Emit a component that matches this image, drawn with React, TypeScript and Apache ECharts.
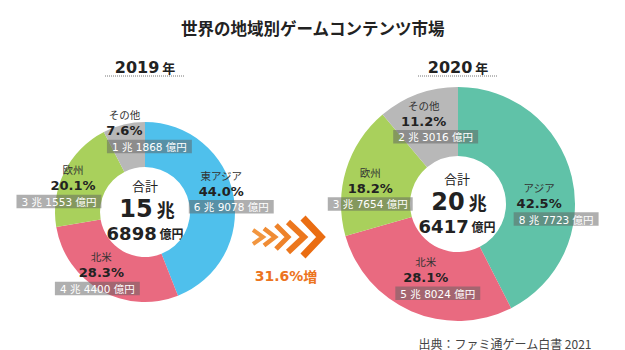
import React, { useEffect, useRef } from "react";
import * as echarts from "echarts";

const FONT = '"Noto Sans CJK JP", "Noto Sans", sans-serif';
const NUM = '"DejaVu Sans", "Noto Sans CJK JP", sans-serif';

const titleText = "世界の地域別ゲームコンテンツ市場";
const sourceText = "出典：ファミ通ゲーム白書 2021";

const years = ["2019", "2020"];

const regions2019 = ["東アジア", "北米", "欧州", "その他"];
const share2019 = [44.0, 28.3, 20.1, 7.6];
const amount2019 = [69078, 44400, 31553, 11868]; // 億円
const total2019 = 156898;
const colors2019 = ["#4fc0ec", "#e96a80", "#a9d05c", "#b8b8b8"];

const regions2020 = ["アジア", "北米", "欧州", "その他"];
const share2020 = [42.5, 28.1, 18.2, 11.2];
const amount2020 = [87723, 58024, 37654, 23016]; // 億円
const total2020 = 206417;
const colors2020 = ["#60c2a8", "#e96a80", "#a9d05c", "#b8b8b8"];

// label layout tweaks: [dx, dy, text shift relative to value box]
const layout2019 = [
  [17, -8, -10],
  [-13, -1, 4],
  [-23, 5, 14],
  [21, -13, -25],
];
const layout2020 = [
  [15, 19, -17],
  [14, -5, -12],
  [-6, 9, 0],
  [7, -3, -12],
];

const fmtAmount = (v: number) => `${Math.floor(v / 10000)} 兆 ${v % 10000} 億円`;

function makeRich(layout: number[][]) {
  const rich: any = {
    b: {
      fontSize: 10.5,
      color: "#ffffff",
      fontFamily: NUM,
      backgroundColor: "rgba(96,96,96,0.5)",
      padding: [2, 5, 1, 5],
      lineHeight: 14,
    },
  };
  layout.forEach((l, i) => {
    const s = l[2];
    const pad = s > 0 ? [0, 0, 0, 2 * s] : [0, -2 * s, 0, 0];
    rich["n" + i] = { fontSize: 10.5, color: "#333", lineHeight: 15, fontFamily: FONT, padding: pad };
    rich["p" + i] = {
      fontSize: 13,
      fontWeight: "bold",
      color: "#222",
      lineHeight: 17,
      fontFamily: NUM,
      padding: pad,
    };
  });
  return rich;
}

function makePie(
  regions: string[],
  shares: number[],
  amounts: number[],
  colors: string[],
  layout: number[][],
  center: number[],
  radius: number[]
) {
  return {
    type: "pie",
    silent: true,
    center,
    radius,
    startAngle: 90,
    clockwise: true,
    avoidLabelOverlap: false,
    itemStyle: { borderWidth: 0 },
    emphasis: { disabled: true },
    label: {
      show: true,
      position: "inside",
      formatter: (p: any) => {
        const i = p.dataIndex;
        return `{n${i}|${regions[i]}}\n{p${i}|${shares[i].toFixed(1)}%}\n{b|${fmtAmount(amounts[i])}}`;
      },
      rich: makeRich(layout),
    },
    labelLine: { show: false },
    labelLayout: (params: any) => ({
      dx: layout[params.dataIndex][0],
      dy: layout[params.dataIndex][1],
    }),
    data: regions.map((r, i) => ({
      name: r,
      value: amounts[i],
      itemStyle: { color: colors[i] },
    })),
  };
}

function centerTexts(x: number, y: number, total: number) {
  const cho = Math.floor(total / 10000);
  const oku = total % 10000;
  return [
    {
      type: "text",
      x,
      y: y - 27,
      style: {
        text: "合計",
        fontSize: 13,
        fontFamily: FONT,
        fill: "#222",
        textAlign: "center",
        textVerticalAlign: "middle",
      },
    },
    {
      type: "text",
      x: x + 2,
      y: y - 3,
      style: {
        text: `{a|${cho}}{k| 兆}`,
        textAlign: "center",
        textVerticalAlign: "middle",
        rich: {
          a: { fontSize: 24, fontWeight: "bold", fontFamily: NUM, fill: "#222", lineHeight: 22 },
          k: { fontSize: 18, fontWeight: "bold", fontFamily: FONT, fill: "#222", lineHeight: 22 },
        },
      },
    },
    {
      type: "text",
      x,
      y: y + 21,
      style: {
        text: `{a|${oku}}{k| 億円}`,
        textAlign: "center",
        textVerticalAlign: "middle",
        rich: {
          a: { fontSize: 18, fontWeight: "bold", fontFamily: NUM, fill: "#222", lineHeight: 16 },
          k: { fontSize: 12, fontWeight: "bold", fontFamily: FONT, fill: "#222", lineHeight: 16 },
        },
      },
    },
  ];
}

function yearHeader(x: number, year: string) {
  return [
    {
      type: "text",
      x,
      y: 67,
      style: {
        text: `{y|${year}}{k| 年}`,
        textAlign: "center",
        textVerticalAlign: "middle",
        rich: {
          y: { fontSize: 16, fontWeight: "bold", fontFamily: NUM, fill: "#222" },
          k: { fontSize: 13, fontWeight: "bold", fontFamily: FONT, fill: "#222" },
        },
      },
    },
    {
      type: "line",
      shape: { x1: x - 40, y1: 76, x2: x + 40, y2: 76 },
      style: { stroke: "#777", lineWidth: 1, lineDash: [1, 1] },
    },
  ];
}

const chevrons = [
  { pts: [[253, 230], [263, 237], [253, 244]], w: 4, c: "#f2963f" },
  { pts: [[264, 228.5], [275, 237], [264, 245.5]], w: 4.5, c: "#f08c34" },
  { pts: [[276, 225], [288, 237], [276, 249]], w: 5, c: "#ee822a" },
  { pts: [[288, 222], [304, 237], [288, 252]], w: 6, c: "#ec771e" },
  { pts: [[303, 218], [321, 237], [303, 256]], w: 7, c: "#ea6d12" },
];

export default function App() {
  const ref = useRef<HTMLDivElement>(null);
  useEffect(() => {
    if (!ref.current) return;
    const chart = echarts.init(ref.current, undefined, { renderer: "svg" });
    const growth = ((total2020 / total2019 - 1) * 100).toFixed(1);
    chart.setOption({
      animation: false,
      backgroundColor: "#ffffff",
      title: {
        text: titleText,
        left: 176,
        top: 15,
        textStyle: { fontSize: 16.5, fontWeight: "bold", color: "#222", fontFamily: FONT },
      },
      series: [
        makePie(regions2019, share2019, amount2019, colors2019, layout2019, [145, 212], [45, 90]),
        makePie(regions2020, share2020, amount2020, colors2020, layout2020, [458, 204], [48, 117]),
      ],
      graphic: [
        ...yearHeader(145, years[0]),
        ...yearHeader(458, years[1]),
        ...centerTexts(145, 212, total2019),
        ...centerTexts(457, 205, total2020),
        ...chevrons.map((c) => ({
          type: "polyline",
          shape: { points: c.pts },
          style: { stroke: c.c, lineWidth: c.w, fill: null, lineJoin: "miter", lineCap: "butt" },
        })),
        {
          type: "text",
          x: 286,
          y: 276,
          style: {
            text: `{a|${growth}%}{k|増}`,
            textAlign: "center",
            textVerticalAlign: "middle",
            rich: {
              a: { fontSize: 14, fontWeight: "bold", fontFamily: NUM, fill: "#ec7420" },
              k: { fontSize: 14, fontWeight: "bold", fontFamily: FONT, fill: "#ec7420" },
            },
          },
        },
        {
          type: "text",
          x: 505,
          y: 343,
          style: {
            text: sourceText,
            fontSize: 12,
            fontFamily: FONT,
            fill: "#444",
            textAlign: "center",
            textVerticalAlign: "middle",
          },
        },
      ],
    });
    return () => chart.dispose();
  }, []);
  return (
    <div
      ref={ref}
      style={{ position: "fixed", left: 0, top: 0, width: 625, height: 350, background: "#fff" }}
    />
  );
}
